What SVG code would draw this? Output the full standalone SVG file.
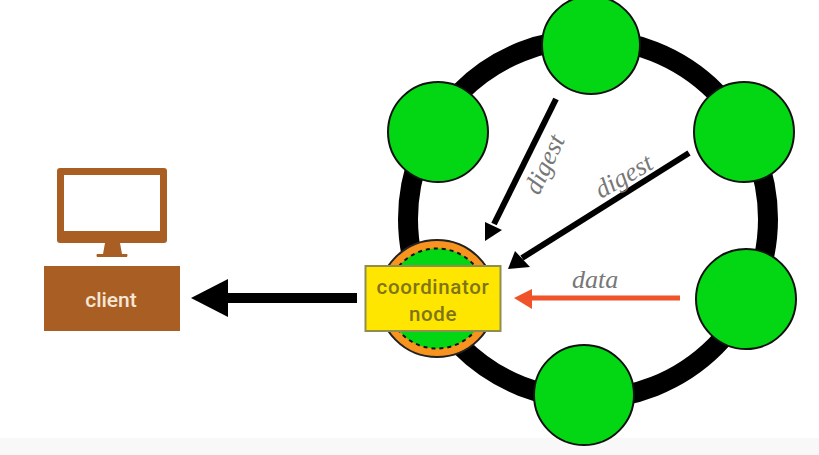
<svg xmlns="http://www.w3.org/2000/svg" width="819" height="455" viewBox="0 0 819 455">
<style>
.n{fill:#03d613;stroke:#111;stroke-width:2}
.lbl{font-family:"Liberation Serif",serif;font-style:italic;font-size:26px;fill:#777}
.ui{font-family:"Roboto","Liberation Sans",sans-serif;font-weight:500}
.coord{font-size:20.500px;letter-spacing:.65px;fill:#7e7416}
.brown{fill:#a95f23}
</style>
<rect width="819" height="455" fill="#fff"/>
<rect y="438" width="819" height="17" fill="#f8f8f8"/>
<g id="ring"><circle cx="588" cy="219" r="180" fill="none" stroke="#000" stroke-width="20"/></g>
<g id="node-top"><circle class="n" cx="591" cy="45" r="49"/></g>
<g id="node-left"><circle class="n" cx="438" cy="132" r="50"/></g>
<g id="node-right"><circle class="n" cx="744" cy="132" r="50"/></g>
<g id="node-lower-right"><circle class="n" cx="746" cy="299" r="50"/></g>
<g id="node-bottom"><circle class="n" cx="584" cy="395" r="50"/></g>
<g id="coordinator">
<circle cx="437" cy="298.500" r="58.500" fill="#f7931e" stroke="#222" stroke-width="2"/>
<circle cx="437" cy="298.500" r="50" fill="#03d613" stroke="#111" stroke-width="2" stroke-dasharray="4 4"/>
<rect x="365.500" y="266" width="135" height="65" fill="#ffe600" stroke="#8e8e50" stroke-width="2"/>
<text class="ui coord" x="433" y="294" text-anchor="middle">coordinator</text>
<text class="ui coord" x="433" y="321" text-anchor="middle">node</text>
</g>
<g id="client">
<path class="brown" fill-rule="evenodd" d="M60 168H164Q167 168 167 171V240Q167 243 164 243H60Q57 243 57 240V171Q57 168 60 168ZM64 175V231H160V175Z"/>
<path class="brown" d="M105 243H120L122 254H127Q128 255 127 257H97Q96 255 97 254H103Z"/>
<rect class="brown" x="44" y="266" width="136" height="65"/>
<text class="ui" x="111" y="307" font-size="21" text-anchor="middle" fill="#f6e6d6">client</text>
</g>
<g id="connectors">
<path d="M357 298H225" stroke="#000" stroke-width="10" fill="none"/>
<path d="M191 298L228 279V317Z" fill="#000"/>
<path d="M556 99L494 224" stroke="#000" stroke-width="6" fill="none"/>
<path d="M485 241L485 222L502 230Z" fill="#000"/>
<path d="M689 153L522 258" stroke="#000" stroke-width="6" fill="none"/>
<path d="M508 269L515 251L530 267Z" fill="#000"/>
<path d="M680 298H530" stroke="#f0532a" stroke-width="5" fill="none"/>
<path d="M514 298L532 289V309Z" fill="#f0532a"/>
</g>
<g id="labels">
<text class="lbl" transform="translate(539 196) rotate(-65)">digest</text>
<text class="lbl" transform="translate(601 199) rotate(-30)">digest</text>
<text class="lbl" x="572" y="288">data</text>
</g>
</svg>
